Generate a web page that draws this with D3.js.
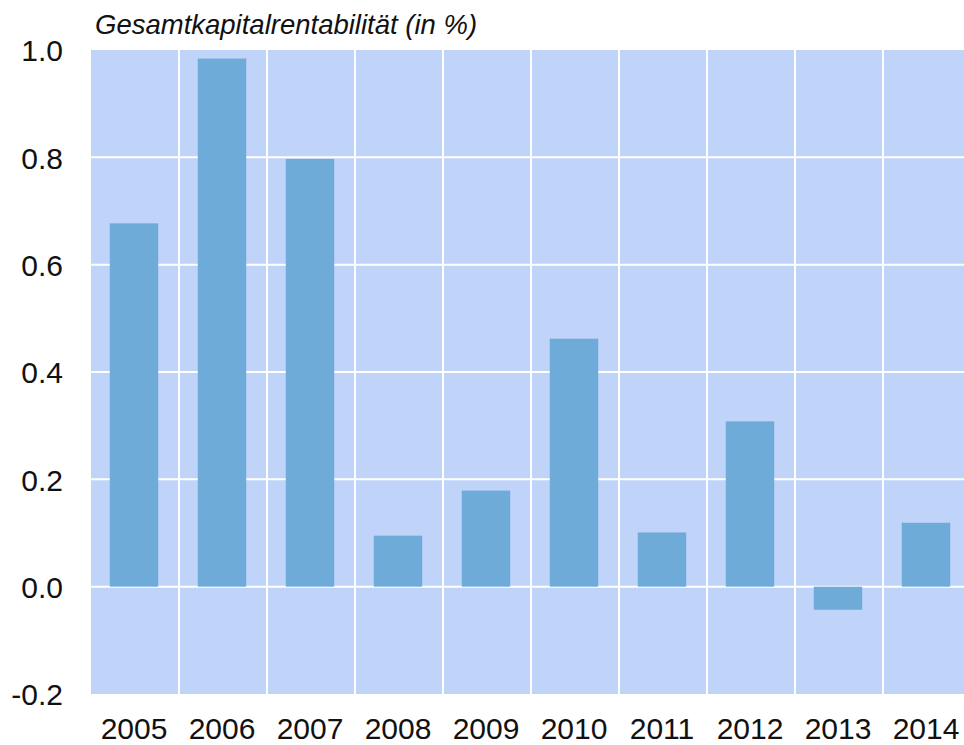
<!DOCTYPE html>
<meta charset="utf-8">
<style>
html, body { margin: 0; padding: 0; background: #fff; }
svg { display: block; font-family: "Liberation Sans", Arial, sans-serif; }
.grid line { stroke: #fff; stroke-width: 2px; }
.bar { fill: #6fabd9; }
.tick-label { font-size: 30px; fill: #111; }
.title { font-size: 27.5px; font-style: italic; fill: #111; }
</style>
<svg id="chart"></svg>
<script src="https://d3js.org/d3.v7.min.js"></script>
<script>

var years = ['2005', '2006', '2007', '2008', '2009', '2010', '2011', '2012', '2013', '2014'];
var values = [0.677, 0.984, 0.797, 0.095, 0.179, 0.462, 0.101, 0.308, -0.043, 0.119];
var yTicks = [-0.2, 0.0, 0.2, 0.4, 0.6, 0.8, 1.0];

var width = 964;
var height = 745;
var margin = {left: 91, right: -7, top: 50, bottom: 51};

var svg = d3.select('#chart')
  .attr('width', width)
  .attr('height', height);

var x = d3.scaleBand()
  .domain(years)
  .range([margin.left, width - margin.right])
  .paddingInner(0)
  .paddingOuter(0);

var y = d3.scaleLinear()
  .domain([-0.2, 1.0])
  .range([height - margin.bottom, margin.top]);

// plot background
svg.append('rect')
  .attr('x', margin.left)
  .attr('y', margin.top)
  .attr('width', width - margin.right - margin.left)
  .attr('height', height - margin.bottom - margin.top)
  .attr('fill', '#c0d3f8');

var grid = svg.append('g').attr('class', 'grid');

grid.selectAll('line.h')
  .data(yTicks.filter(function (d) { return d > -0.2 && d < 1.0; }))
  .enter().append('line')
  .attr('class', 'h')
  .attr('x1', margin.left)
  .attr('x2', width - margin.right)
  .attr('y1', function (d) { return y(d); })
  .attr('y2', function (d) { return y(d); });

grid.selectAll('line.v')
  .data(years.slice(1))
  .enter().append('line')
  .attr('class', 'v')
  .attr('x1', function (d) { return x(d); })
  .attr('x2', function (d) { return x(d); })
  .attr('y1', margin.top)
  .attr('y2', height - margin.bottom);

var barW = x.bandwidth() * 0.55;

svg.selectAll('rect.bar')
  .data(years)
  .enter().append('rect')
  .attr('class', 'bar')
  .attr('x', function (d) { return x(d) + (x.bandwidth() - barW) / 2 - 1; })
  .attr('width', barW)
  .attr('y', function (d, i) { return y(Math.max(0, values[i])); })
  .attr('height', function (d, i) { return Math.abs(y(values[i]) - y(0)); });

// y axis labels
svg.append('g')
  .selectAll('text')
  .data(yTicks)
  .enter().append('text')
  .attr('class', 'tick-label')
  .attr('x', 63)
  .attr('y', function (d) { return y(d); })
  .attr('dy', '0.38em')
  .attr('text-anchor', 'end')
  .text(function (d) { return d.toFixed(1); });

// x axis labels
svg.append('g')
  .selectAll('text')
  .data(years)
  .enter().append('text')
  .attr('class', 'tick-label')
  .attr('x', function (d) { return x(d) + x.bandwidth() / 2 - 1; })
  .attr('y', 739)
  .attr('text-anchor', 'middle')
  .text(function (d) { return d; });

svg.append('text')
  .attr('class', 'title')
  .attr('x', 95)
  .attr('y', 34)
  .text('Gesamtkapitalrentabilität (in %)');

</script>
